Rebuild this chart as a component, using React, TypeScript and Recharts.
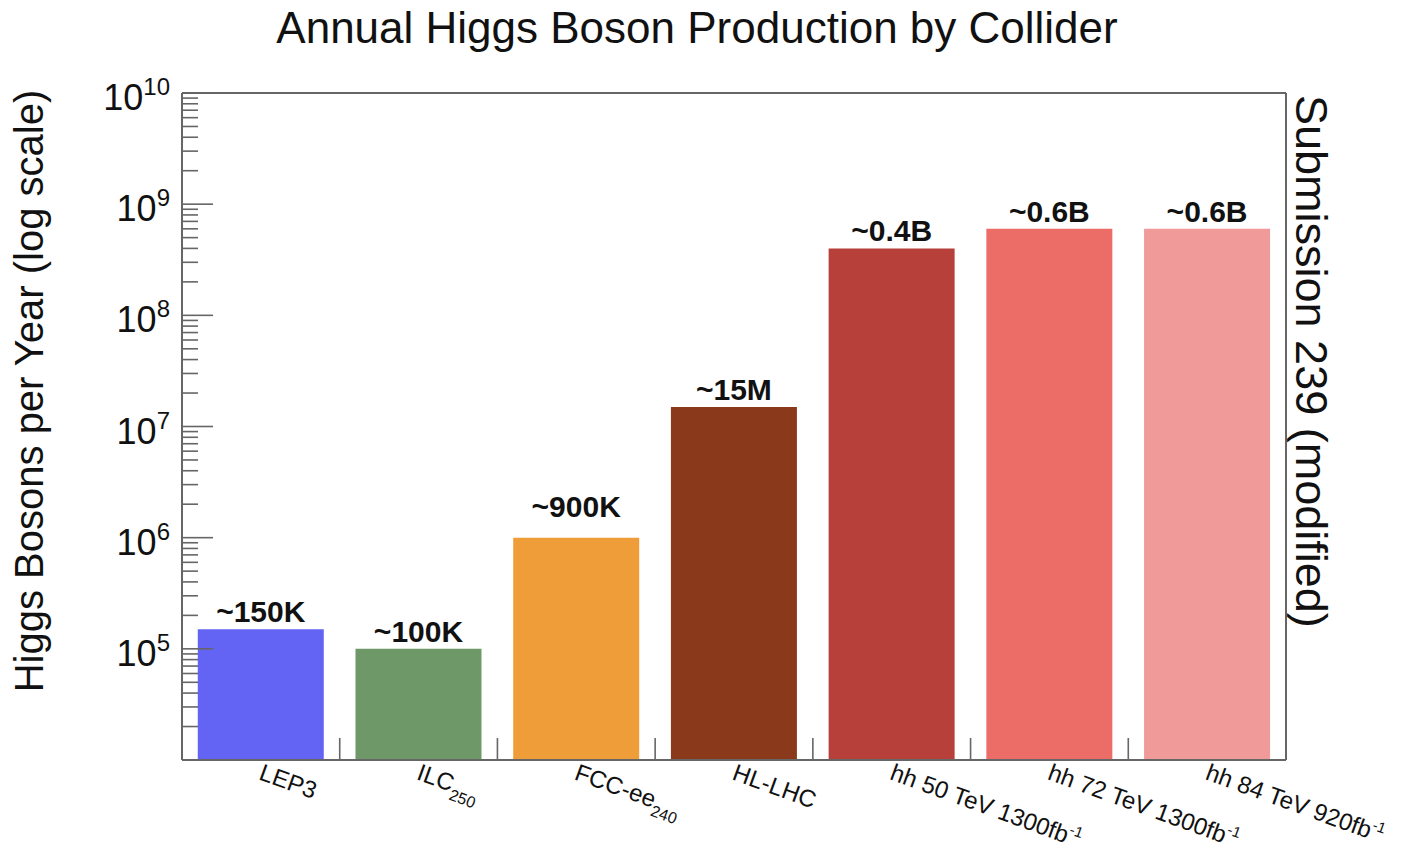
import React from "react";
import { BarChart, Bar, XAxis, YAxis, Cell, LabelList, Label } from "recharts";

const colliders = ["LEP3", "ILC", "FCC-ee", "HL-LHC", "hh 50 TeV 1300fb", "hh 72 TeV 1300fb", "hh 84 TeV 920fb"];
const colliderSubscripts = ["", "250", "240", "", "", "", ""];
const colliderSuperscripts = ["", "", "", "", "-1", "-1", "-1"];
const higgsPerYear = [1.5e5, 1e5, 1e6, 1.5e7, 4e8, 6e8, 6e8];
const barLabels = ["~150K", "~100K", "~900K", "~15M", "~0.4B", "~0.6B", "~0.6B"];
const barColors = ["#6464f4", "#6e9868", "#ef9d39", "#8a3a1a", "#b8403a", "#ec6d68", "#f09b99"];
const labelExponents = [5, 6, 7, 8, 9, 10];
const decadeExponents = [4, 5, 6, 7, 8, 9];
const minorMultipliers = [2, 3, 4, 5, 6, 7, 8, 9];

const data = colliders.map((name, i) => ({ name, value: higgsPerYear[i], label: barLabels[i] }));

const yTicks: number[] = [];
decadeExponents.forEach((e) => {
  if (e > 4) yTicks.push(Math.pow(10, e));
  minorMultipliers.forEach((m) => yTicks.push(m * Math.pow(10, e)));
});
yTicks.push(1e10);

const W = 1386;
const H = 834;
const AXIS = "#666666";
const INK = "#111111";
const FONT = "'Liberation Sans', Arial, Helvetica, sans-serif";

const YTick = (props: any) => {
  const { x, y, payload } = props;
  const v = payload.value as number;
  const exp = Math.round(Math.log10(v));
  const isMajor = Math.abs(v - Math.pow(10, exp)) < 1e-6 * v;
  const showLabel = isMajor && labelExponents.includes(exp);
  return (
    <g>
      <line x1={x} x2={x + (isMajor ? 31 : 16)} y1={y} y2={y} stroke={AXIS} strokeWidth={1.6} />
      {showLabel && (
        <text x={x - 12} y={y + 17} textAnchor="end" fontSize={36} fill={INK} fontFamily={FONT}>
          10
          <tspan dy={-15} fontSize={24}>{String(exp)}</tspan>
        </text>
      )}
    </g>
  );
};

const XTick = (props: any) => {
  const { x, y, payload } = props;
  const i = colliders.indexOf(payload.value);
  const half = typeof payload.offset === "number" && payload.offset > 0 ? payload.offset : (1104 / 7) / 2;
  const bx = x + half;
  const ox = x - 3;
  const oy = y + 19;
  const sub = colliderSubscripts[i];
  const sup = colliderSuperscripts[i];
  return (
    <g>
      <line x1={bx} x2={bx} y1={y} y2={y - 22} stroke={AXIS} strokeWidth={1.6} />
      <text x={ox} y={oy} transform={`rotate(20, ${ox}, ${oy})`} fontSize={24} fill={INK} fontFamily={FONT}>
        {payload.value}
        {sub && <tspan dy={8} fontSize={16}>{sub}</tspan>}
        {sup && <tspan dy={-10} fontSize={15}>{sup}</tspan>}
      </text>
    </g>
  );
};

const BarLabel = (props: any) => {
  const vb = props.viewBox || {};
  const x = props.x ?? vb.x;
  const y = props.y ?? vb.y;
  const width = props.width ?? vb.width;
  const lift = props.index === 2 ? 21 : 7;
  return (
    <text x={x + width / 2} y={y - lift} textAnchor="middle" fontWeight="bold" fontSize={30} fill={INK} fontFamily={FONT}>
      {props.value}
    </text>
  );
};

const TitleContent = () => (
  <text x={689} y={35} textAnchor="middle" fontSize={44} fill={INK} fontFamily={FONT}>
    Annual Higgs Boson Production by Collider
  </text>
);

const YLabelContent = () => (
  <text x={35} y={383} transform="rotate(-90, 35, 383)" textAnchor="middle" fontSize={40} fill={INK} fontFamily={FONT}>
    Higgs Bosons per Year (log scale)
  </text>
);

const RightLabelContent = () => (
  <text x={1288} y={87} transform="rotate(90, 1288, 87)" textAnchor="start" fontSize={45} fill={INK} fontFamily={FONT}>
    Submission 239 (modified)
  </text>
);

export default function App() {
  return (
    <div style={{ width: W, height: H, background: "#fff" }}>
      <style>{`.recharts-surface{overflow:visible}`}</style>
      <BarChart width={W} height={H} data={data} margin={{ top: 0, right: 0, bottom: 0, left: 0 }} barCategoryGap="10%">
        <XAxis
          xAxisId="top"
          orientation="top"
          dataKey="name"
          height={85}
          tick={false}
          tickLine={false}
          axisLine={{ stroke: AXIS, strokeWidth: 2 }}
          label={<Label content={TitleContent} />}
        />
        <XAxis
          dataKey="name"
          height={82}
          tickSize={0}
          tickMargin={0}
          tickLine={false}
          interval={0}
          tick={<XTick />}
          axisLine={{ stroke: AXIS, strokeWidth: 2 }}
        />
        <YAxis
          yAxisId="right"
          orientation="right"
          width={108}
          scale="log"
          domain={[1e4, 1e10]}
          allowDataOverflow
          tick={false}
          tickLine={false}
          axisLine={{ stroke: AXIS, strokeWidth: 2 }}
          label={<Label content={RightLabelContent} />}
        />
        <YAxis
          width={174}
          scale="log"
          domain={[1e4, 1e10]}
          allowDataOverflow
          ticks={yTicks}
          interval={0}
          tickSize={0}
          tickMargin={0}
          tickLine={false}
          tick={<YTick />}
          axisLine={{ stroke: AXIS, strokeWidth: 2 }}
          label={<Label content={YLabelContent} />}
        />
        <Bar dataKey="value" isAnimationActive={false}>
          {data.map((d, i) => (
            <Cell key={d.name} fill={barColors[i]} />
          ))}
          <LabelList dataKey="label" content={<BarLabel />} />
        </Bar>
      </BarChart>
    </div>
  );
}
